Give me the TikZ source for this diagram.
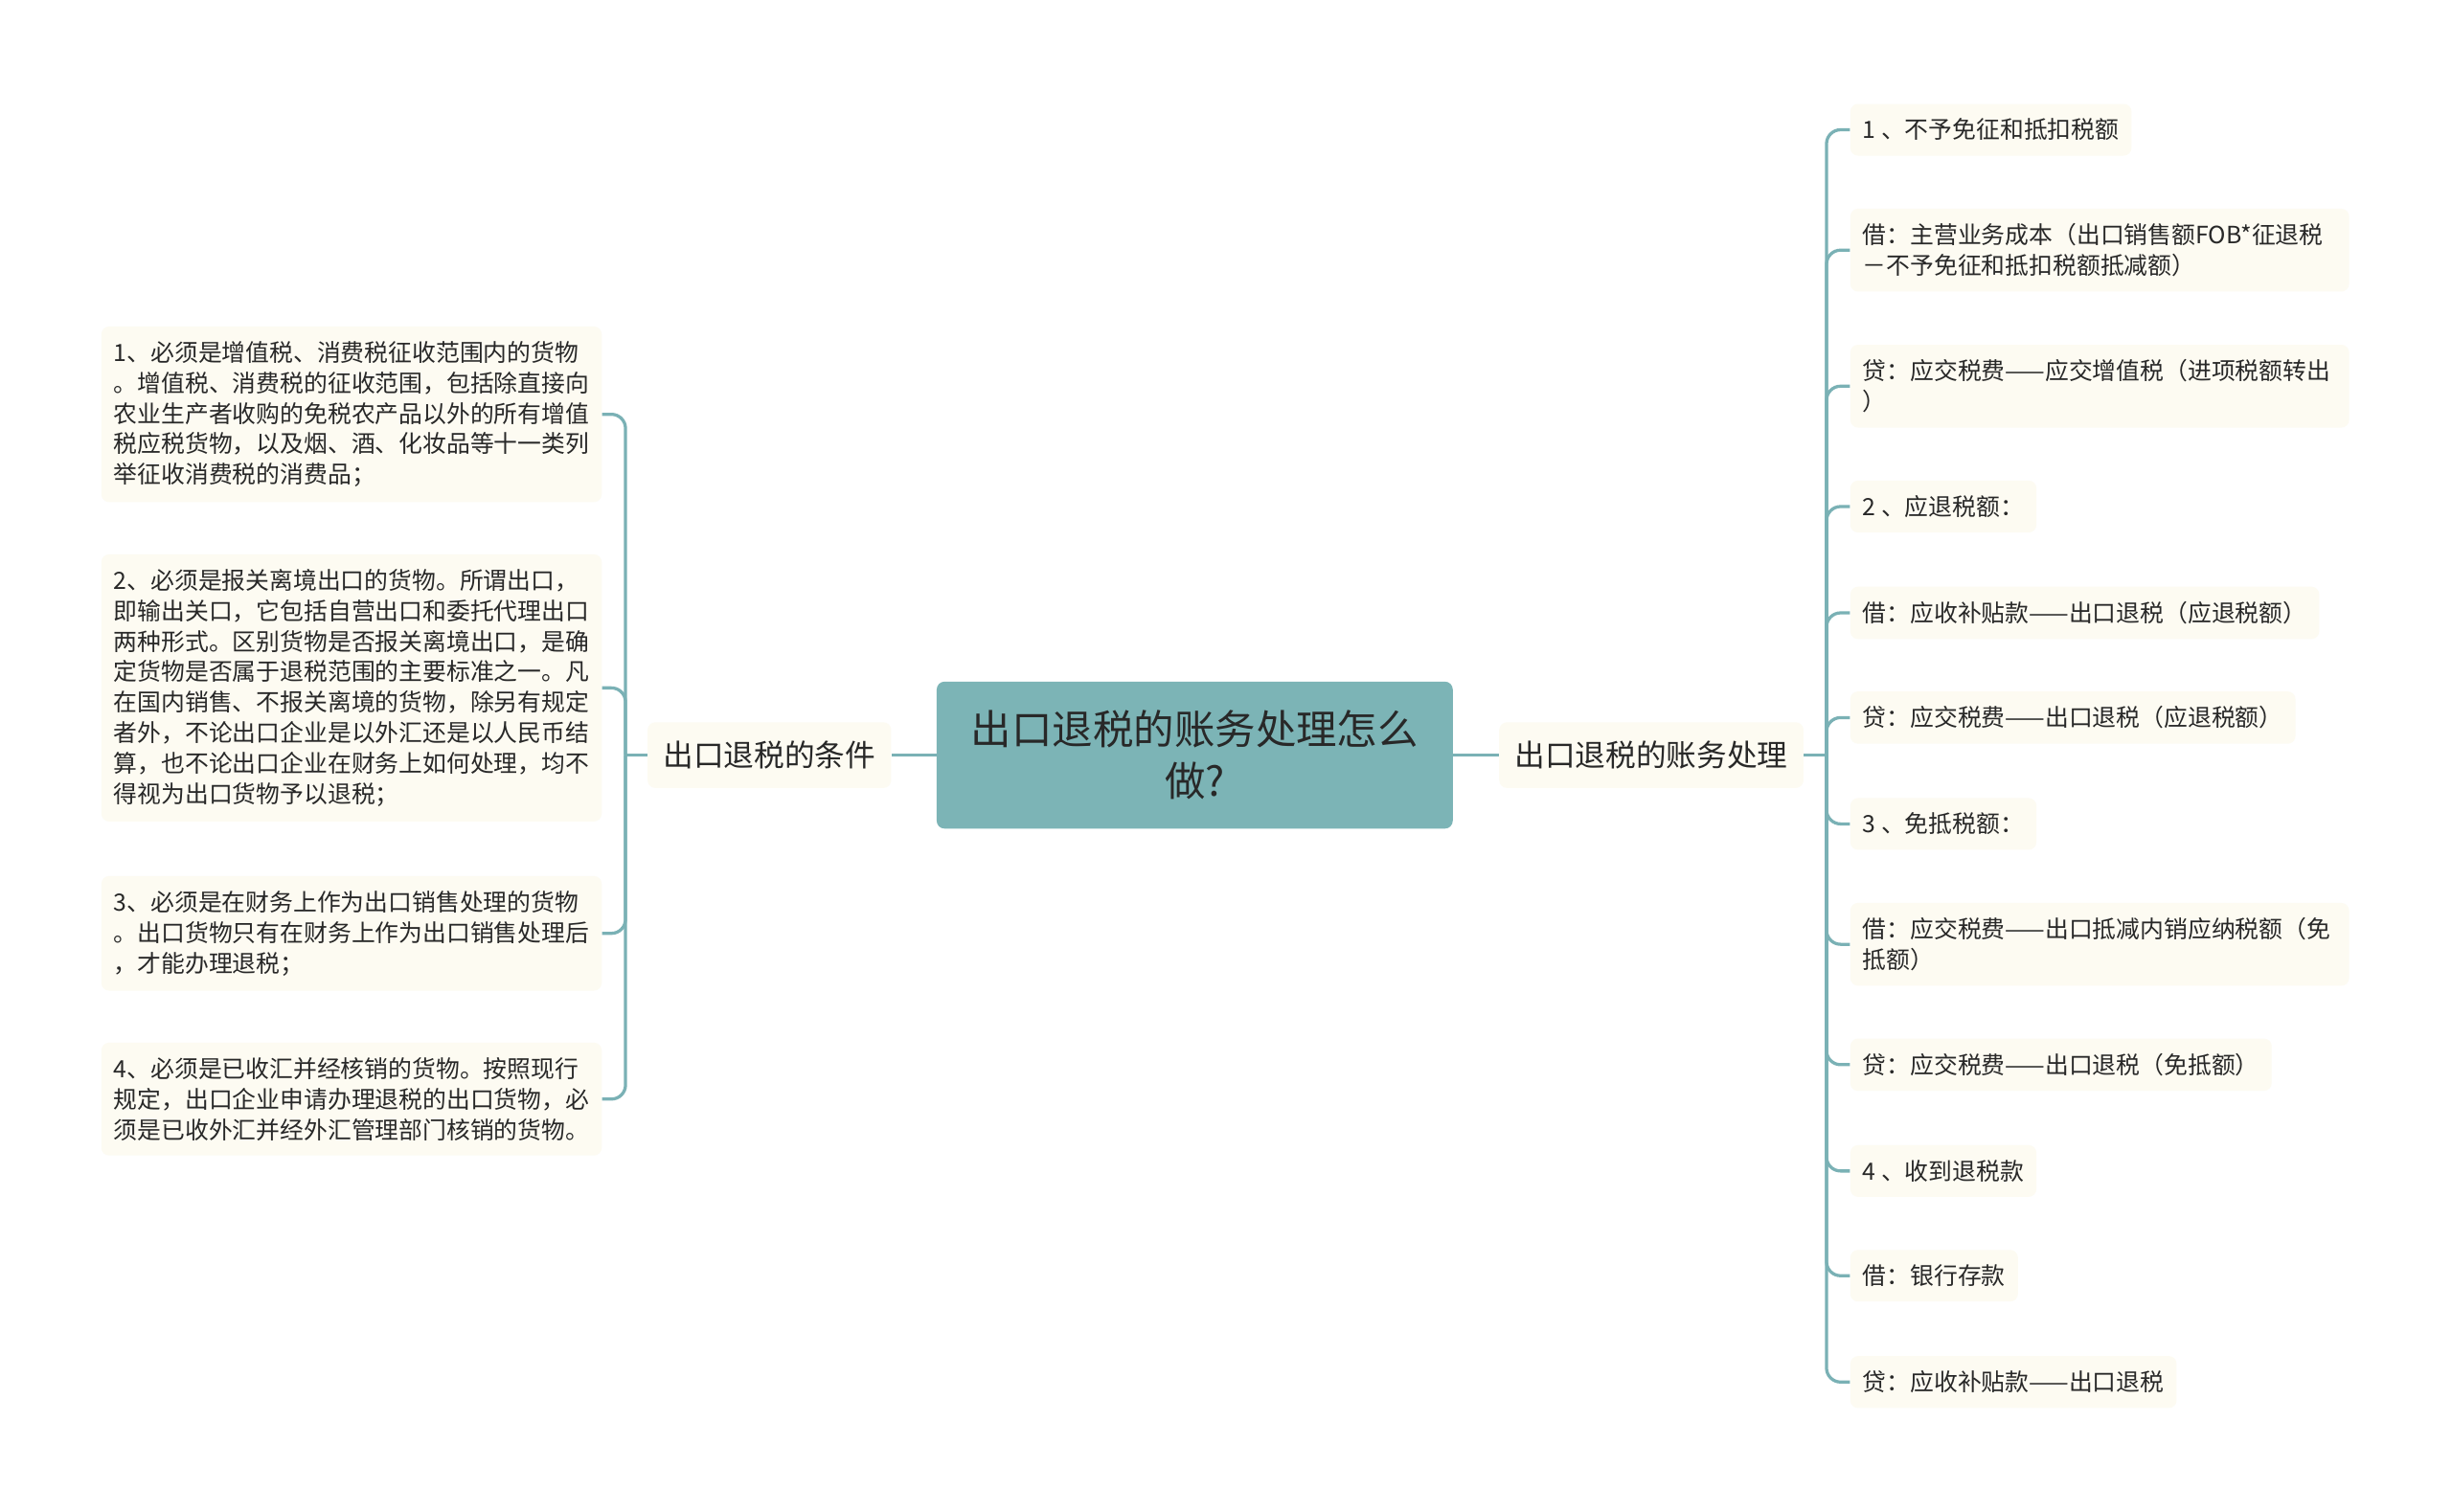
\documentclass[tikz,border=0pt]{standalone}
\usepackage{fontspec}
\setmainfont{Noto Sans CJK SC}
\usepackage{tikz}
\usepackage{xcolor}
\definecolor{rootfill}{RGB}{124,180,182}
\definecolor{leaffill}{RGB}{253,251,242}
\definecolor{linkcol}{RGB}{122,177,181}
\definecolor{textcol}{RGB}{40,40,40}
\tikzset{%
    rootbox/.style={%
        fill=rootfill, rounded corners=5pt, align=center, text=textcol,
        minimum width=330pt, minimum height=94pt, inner sep=0pt,
        font=\fontsize{26pt}{33pt}\selectfont},
    branchbox/.style={%
        fill=leaffill, rounded corners=5pt, text=textcol,
        minimum height=42pt, inner xsep=10pt, inner ysep=0pt,
        font=\fontsize{19.4pt}{24pt}\selectfont},
    leafbox/.style={%
        fill=leaffill, rounded corners=5pt, align=left, text=textcol,
        minimum height=32.5pt, inner xsep=8pt, inner ysep=9.5pt,
        font=\fontsize{15.2pt}{19.5pt}\selectfont},
    wideleaf/.style={leafbox, text width=303pt},
    link/.style={draw=linkcol, line width=2pt, rounded corners=9pt}
}
\begin{document}
\begin{tikzpicture}[x=1pt,y=-1pt]
    \fill[white] (0,0) rectangle (1568,967);
    \useasboundingbox (0,0) rectangle (1568,967);
    % centre and the two branches
    \node[rootbox] (root) at (764,483) {出口退税的账务处理怎么\\做?};
    \node[branchbox] (cond) at (492,483) {出口退税的条件};
    \node[branchbox] (acct) at (1056,483) {出口退税的账务处理};
    % conditions
    \node[leafbox, anchor=east, minimum width=320pt] (c1) at (385,265) {1、必须是增值税、消费税征收范围内的货物\\。增值税、消费税的征收范围，包括除直接向\\农业生产者收购的免税农产品以外的所有增值\\税应税货物，以及烟、酒、化妆品等十一类列\\举征收消费税的消费品；};
    \node[leafbox, anchor=east, minimum width=320pt] (c2) at (385,440) {2、必须是报关离境出口的货物。所谓出口，\\即输出关口，它包括自营出口和委托代理出口\\两种形式。区别货物是否报关离境出口，是确\\定货物是否属于退税范围的主要标准之一。凡\\在国内销售、不报关离境的货物，除另有规定\\者外，不论出口企业是以外汇还是以人民币结\\算，也不论出口企业在财务上如何处理，均不\\得视为出口货物予以退税；};
    \node[leafbox, anchor=east, minimum width=320pt] (c3) at (385,597) {3、必须是在财务上作为出口销售处理的货物\\。出口货物只有在财务上作为出口销售处理后\\，才能办理退税；};
    \node[leafbox, anchor=east, minimum width=320pt] (c4) at (385,703) {4、必须是已收汇并经核销的货物。按照现行\\规定，出口企业申请办理退税的出口货物，必\\须是已收外汇并经外汇管理部门核销的货物。};
    % bookkeeping entries
    \node[leafbox, anchor=west] (a1) at (1183,83) {1 、不予免征和抵扣税额};
    \node[wideleaf, anchor=west] (a2) at (1183,160) {借：主营业务成本（出口销售额FOB*征退税\\－不予免征和抵扣税额抵减额）};
    \node[wideleaf, anchor=west] (a3) at (1183,247) {贷：应交税费——应交增值税（进项税额转出\\）};
    \node[leafbox, anchor=west] (a4) at (1183,324) {2 、应退税额：};
    \node[leafbox, anchor=west] (a5) at (1183,392) {借：应收补贴款——出口退税（应退税额）};
    \node[leafbox, anchor=west] (a6) at (1183,459) {贷：应交税费——出口退税（应退税额）};
    \node[leafbox, anchor=west] (a7) at (1183,527) {3 、免抵税额：};
    \node[wideleaf, anchor=west] (a8) at (1183,604) {借：应交税费——出口抵减内销应纳税额（免\\抵额）};
    \node[leafbox, anchor=west] (a9) at (1183,681) {贷：应交税费——出口退税（免抵额）};
    \node[leafbox, anchor=west] (a10) at (1183,749) {4 、收到退税款};
    \node[leafbox, anchor=west] (a11) at (1183,816) {借：银行存款};
    \node[leafbox, anchor=west] (a12) at (1183,884) {贷：应收补贴款——出口退税};
    % connectors
    \coordinate (lj) at (400,483);
    \coordinate (rj) at (1168,483);
    \draw[link] (root.west) -- (cond.east);
    \draw[link] (root.east) -- (acct.west);
    \draw[link] (cond.west) -- (lj);
    \draw[link] (acct.east) -- (rj);
    \foreach \i in {1,...,4} \draw[link] (lj) |- (c\i.east);
    \foreach \i in {1,...,12} \draw[link] (rj) |- (a\i.west);
\end{tikzpicture}
\end{document}
